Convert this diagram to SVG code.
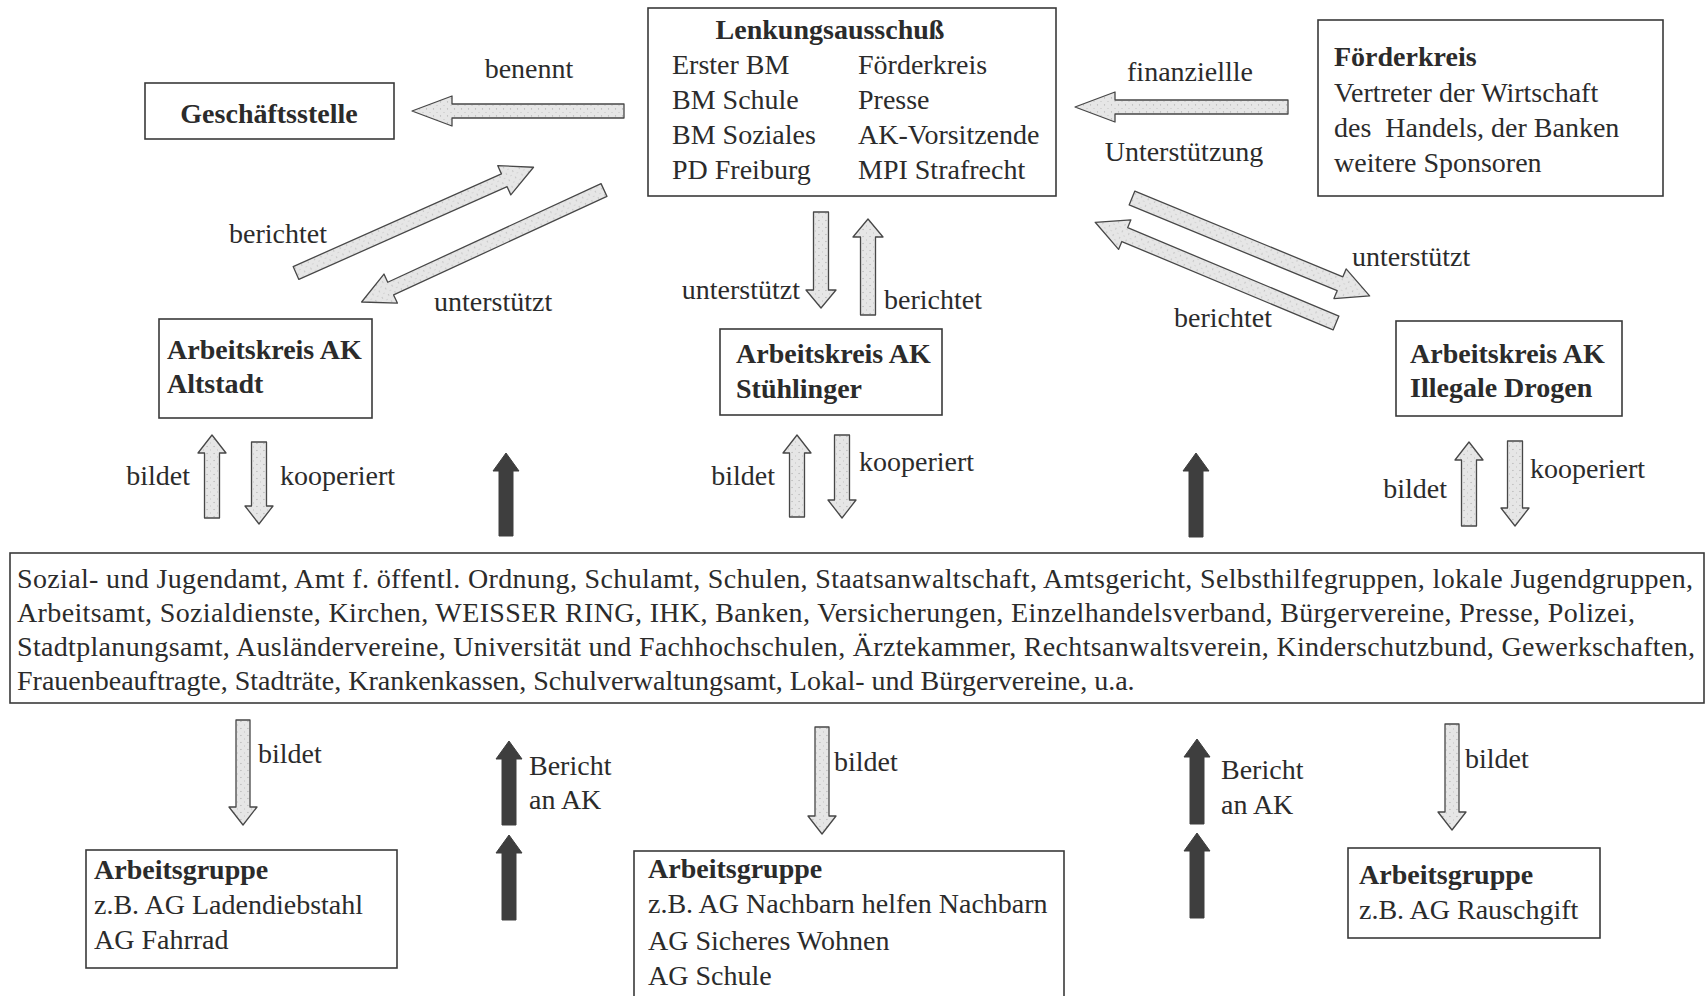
<svg xmlns="http://www.w3.org/2000/svg" width="1707" height="996" viewBox="0 0 1707 996">
<defs>
<pattern id="dots" width="7" height="7" patternUnits="userSpaceOnUse">
<rect width="7" height="7" fill="#e6e6e6"/>
<circle cx="1.5" cy="2" r="0.6" fill="#a0a0a0"/>
<circle cx="5" cy="5.5" r="0.5" fill="#b8b8b8"/>
</pattern>
<style>
text{font-family:"Liberation Serif","Times New Roman",serif;font-size:28px;fill:#2b2b2b}
.b{font-weight:bold}
.m{text-anchor:middle}
.e{text-anchor:end}
.box{fill:#fff;stroke:#3a3a3a;stroke-width:1.6}
.light{fill:url(#dots);stroke:#474747;stroke-width:1.3;stroke-linejoin:round}
.dark{fill:#3e3e3e;stroke:#3e3e3e;stroke-width:1;stroke-linejoin:round}
</style>
</defs>
<rect width="1707" height="996" fill="#fff"/>

<g id="connectors">
<!-- horizontal -->
<polygon class="light" transform="translate(624,111) rotate(180)" points="0,-7 172,-7 172,-15 212,0 172,15 172,7 0,7"/>
<polygon class="light" transform="translate(1288,107) rotate(180)" points="0,-7 173,-7 173,-15 213,0 173,15 173,7 0,7"/>
<!-- diagonals -->
<polygon class="light" transform="translate(296,273) rotate(-24)" points="0,-7 228,-7 228,-16 260,0 228,16 228,7 0,7"/>
<polygon class="light" transform="translate(604,190) rotate(155.2)" points="0,-7 235,-7 235,-16 267,0 235,16 235,7 0,7"/>
<polygon class="light" transform="translate(1132,198) rotate(22.4)" points="0,-7.5 225,-7.5 225,-16 257,0 225,16 225,7.5 0,7.5"/>
<polygon class="light" transform="translate(1336,323) rotate(-157.3)" points="0,-7.5 229,-7.5 229,-16 261,0 229,16 229,7.5 0,7.5"/>
<!-- vertical light -->
<polygon class="light" transform="translate(821,212) rotate(90)" points="0,-7.5 78,-7.5 78,-15 96,0 78,15 78,7.5 0,7.5"/>
<polygon class="light" transform="translate(868,315) rotate(-90)" points="0,-7.5 78,-7.5 78,-15 96,0 78,15 78,7.5 0,7.5"/>
<polygon class="light" transform="translate(212,518) rotate(-90)" points="0,-7.5 65,-7.5 65,-14 83,0 65,14 65,7.5 0,7.5"/>
<polygon class="light" transform="translate(259,442) rotate(90)" points="0,-7.5 64,-7.5 64,-14 82,0 64,14 64,7.5 0,7.5"/>
<polygon class="light" transform="translate(797,517) rotate(-90)" points="0,-7.5 64,-7.5 64,-14 82,0 64,14 64,7.5 0,7.5"/>
<polygon class="light" transform="translate(842,435) rotate(90)" points="0,-7.5 65,-7.5 65,-14 83,0 65,14 65,7.5 0,7.5"/>
<polygon class="light" transform="translate(1469,526) rotate(-90)" points="0,-7.5 66,-7.5 66,-14 84,0 66,14 66,7.5 0,7.5"/>
<polygon class="light" transform="translate(1515,441) rotate(90)" points="0,-7.5 67,-7.5 67,-14 85,0 67,14 67,7.5 0,7.5"/>
<polygon class="light" transform="translate(243,720) rotate(90)" points="0,-7 87,-7 87,-14 105,0 87,14 87,7 0,7"/>
<polygon class="light" transform="translate(822,727) rotate(90)" points="0,-7 89,-7 89,-14 107,0 89,14 89,7 0,7"/>
<polygon class="light" transform="translate(1452,724) rotate(90)" points="0,-7 88,-7 88,-14 106,0 88,14 88,7 0,7"/>
<!-- dark arrows -->
<polygon class="dark" transform="translate(506,536) rotate(-90)" points="0,-7 65,-7 65,-13 83,0 65,13 65,7 0,7"/>
<polygon class="dark" transform="translate(1196,537) rotate(-90)" points="0,-7 66,-7 66,-13 84,0 66,13 66,7 0,7"/>
<polygon class="dark" transform="translate(509,825) rotate(-90)" points="0,-7 66,-7 66,-13 84,0 66,13 66,7 0,7"/>
<polygon class="dark" transform="translate(509,920) rotate(-90)" points="0,-7 67,-7 67,-13 85,0 67,13 67,7 0,7"/>
<polygon class="dark" transform="translate(1197,824) rotate(-90)" points="0,-7 67,-7 67,-13 85,0 67,13 67,7 0,7"/>
<polygon class="dark" transform="translate(1197,918) rotate(-90)" points="0,-7 67,-7 67,-13 85,0 67,13 67,7 0,7"/>
</g>

<g id="connector-labels">
<text class="m" x="529" y="78">benennt</text>
<text class="m" x="1190" y="81">finanziellle</text>
<text class="m" x="1184" y="161">Unterstützung</text>
<text x="229" y="243">berichtet</text>
<text x="434" y="311">unterstützt</text>
<text class="e" x="800" y="299">unterstützt</text>
<text x="884" y="309">berichtet</text>
<text x="1352" y="266">unterstützt</text>
<text x="1174" y="327">berichtet</text>
<text class="e" x="190" y="485">bildet</text>
<text x="280" y="485">kooperiert</text>
<text class="e" x="775" y="485">bildet</text>
<text x="859" y="471">kooperiert</text>
<text class="e" x="1447" y="498">bildet</text>
<text x="1530" y="478">kooperiert</text>
<text x="258" y="763">bildet</text>
<text x="834" y="771">bildet</text>
<text x="1465" y="768">bildet</text>
<text x="529" y="775">Bericht</text>
<text x="529" y="809">an AK</text>
<text x="1221" y="779">Bericht</text>
<text x="1221" y="814">an AK</text>
</g>

<g id="lenkungsausschuss">
<rect class="box" x="648" y="8" width="408" height="188"/>
<text class="b m" x="830" y="39">Lenkungsausschuß</text>
<text x="672" y="74">Erster BM</text>
<text x="672" y="109">BM Schule</text>
<text x="672" y="144">BM Soziales</text>
<text x="672" y="179">PD Freiburg</text>
<text x="858" y="74">Förderkreis</text>
<text x="858" y="109">Presse</text>
<text x="858" y="144">AK-Vorsitzende</text>
<text x="858" y="179">MPI Strafrecht</text>
</g>

<g id="geschaeftsstelle">
<rect class="box" x="145" y="83" width="249" height="56"/>
<text class="b m" x="269" y="123">Geschäftsstelle</text>
</g>

<g id="foerderkreis">
<rect class="box" x="1318" y="20" width="345" height="176"/>
<text class="b" x="1334" y="66">Förderkreis</text>
<text x="1334" y="102">Vertreter der Wirtschaft</text>
<text x="1334" y="137" style="white-space:pre">des  Handels, der Banken</text>
<text x="1334" y="172">weitere Sponsoren</text>
</g>

<g id="ak-altstadt">
<rect class="box" x="159" y="319" width="213" height="99"/>
<text class="b" x="167" y="359">Arbeitskreis AK</text>
<text class="b" x="167" y="393">Altstadt</text>
</g>

<g id="ak-stuehlinger">
<rect class="box" x="720" y="329" width="222" height="86"/>
<text class="b" x="736" y="363">Arbeitskreis AK</text>
<text class="b" x="736" y="398">Stühlinger</text>
</g>

<g id="ak-drogen">
<rect class="box" x="1396" y="321" width="226" height="95"/>
<text class="b" x="1410" y="363">Arbeitskreis AK</text>
<text class="b" x="1410" y="397">Illegale Drogen</text>
</g>

<g id="partner">
<rect class="box" x="10" y="553" width="1694" height="150"/>
<text x="17" y="588" textLength="1676" lengthAdjust="spacing">Sozial- und Jugendamt, Amt f. öffentl. Ordnung, Schulamt, Schulen, Staatsanwaltschaft, Amtsgericht, Selbsthilfegruppen, lokale Jugendgruppen,</text>
<text x="17" y="622" textLength="1618" lengthAdjust="spacing">Arbeitsamt, Sozialdienste, Kirchen, WEISSER RING, IHK, Banken, Versicherungen, Einzelhandelsverband, Bürgervereine, Presse, Polizei,</text>
<text x="17" y="656" textLength="1678" lengthAdjust="spacing">Stadtplanungsamt, Ausländervereine, Universität und Fachhochschulen, Ärztekammer, Rechtsanwaltsverein, Kinderschutzbund, Gewerkschaften,</text>
<text x="17" y="690">Frauenbeauftragte, Stadträte, Krankenkassen, Schulverwaltungsamt, Lokal- und Bürgervereine, u.a.</text>
</g>

<g id="ag-left">
<rect class="box" x="86" y="850" width="311" height="118"/>
<text class="b" x="94" y="879">Arbeitsgruppe</text>
<text x="94" y="914">z.B. AG Ladendiebstahl</text>
<text x="94" y="949">AG Fahrrad</text>
</g>

<g id="ag-middle">
<rect class="box" x="634" y="851" width="430" height="150"/>
<text class="b" x="648" y="878">Arbeitsgruppe</text>
<text x="648" y="913">z.B. AG Nachbarn helfen Nachbarn</text>
<text x="648" y="950">AG Sicheres Wohnen</text>
<text x="648" y="985">AG Schule</text>
</g>

<g id="ag-right">
<rect class="box" x="1348" y="848" width="252" height="90"/>
<text class="b" x="1359" y="884">Arbeitsgruppe</text>
<text x="1359" y="919">z.B. AG Rauschgift</text>
</g>
</svg>
